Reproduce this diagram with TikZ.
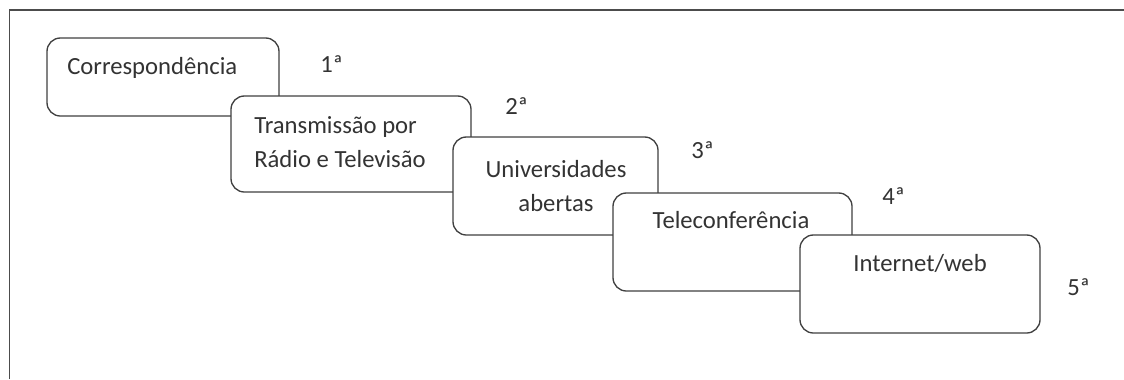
\documentclass[tikz,border=0pt]{standalone}
\usepackage{fontspec}
\setmainfont{Carlito}
\begin{document}
\begin{tikzpicture}[x=0.75pt,y=-0.75pt,
  stage/.style={draw=black!75, line width=1pt, fill=white, rounded corners=10pt,
    anchor=north west, inner sep=0pt, outer sep=0pt},
  lbl/.style={text=black!80, font=\fontsize{18.5}{22}\selectfont, inner sep=0pt},
  ord/.style={lbl, anchor=base west}]
\useasboundingbox (0,0) rectangle (1124,379);
\draw[black!70, line width=1.2pt] (9.5,379) -- (9.5,10) -- (1124,10);
% boxes
\node[stage, minimum width=232*0.75pt, minimum height=78*0.75pt] (b1) at (47,38) {};
\node[stage, minimum width=240*0.75pt, minimum height=96*0.75pt] (b2) at (231,96) {};
\node[stage, minimum width=205*0.75pt, minimum height=98*0.75pt] (b3) at (453,137) {};
\node[stage, minimum width=239*0.75pt, minimum height=98*0.75pt] (b4) at (613,193) {};
\node[stage, minimum width=240*0.75pt, minimum height=98*0.75pt] (b5) at (800,235) {};
% texts
\node[lbl, anchor=base west] (t1) at (67,74) {Correspondência};
\node[lbl, anchor=base west] (t2a) at (254,133) {Transmissão por};
\node[lbl, anchor=base west] (t2b) at (254,167) {Rádio e Televisão};
\node[lbl, anchor=base] (t3a) at (556,177) {Universidades};
\node[lbl, anchor=base] (t3b) at (556,211) {abertas};
\node[lbl, anchor=base] (t4) at (731,228) {Teleconferência};
\node[lbl, anchor=base] (t5) at (920,271) {Internet/web};
% ordinals
\node[ord] (o1) at (320,72) {1ª};
\node[ord] (o2) at (505,114) {2ª};
\node[ord] (o3) at (691,158) {3ª};
\node[ord] (o4) at (882,204) {4ª};
\node[ord] (o5) at (1067,295) {5ª};
\end{tikzpicture}
\end{document}
